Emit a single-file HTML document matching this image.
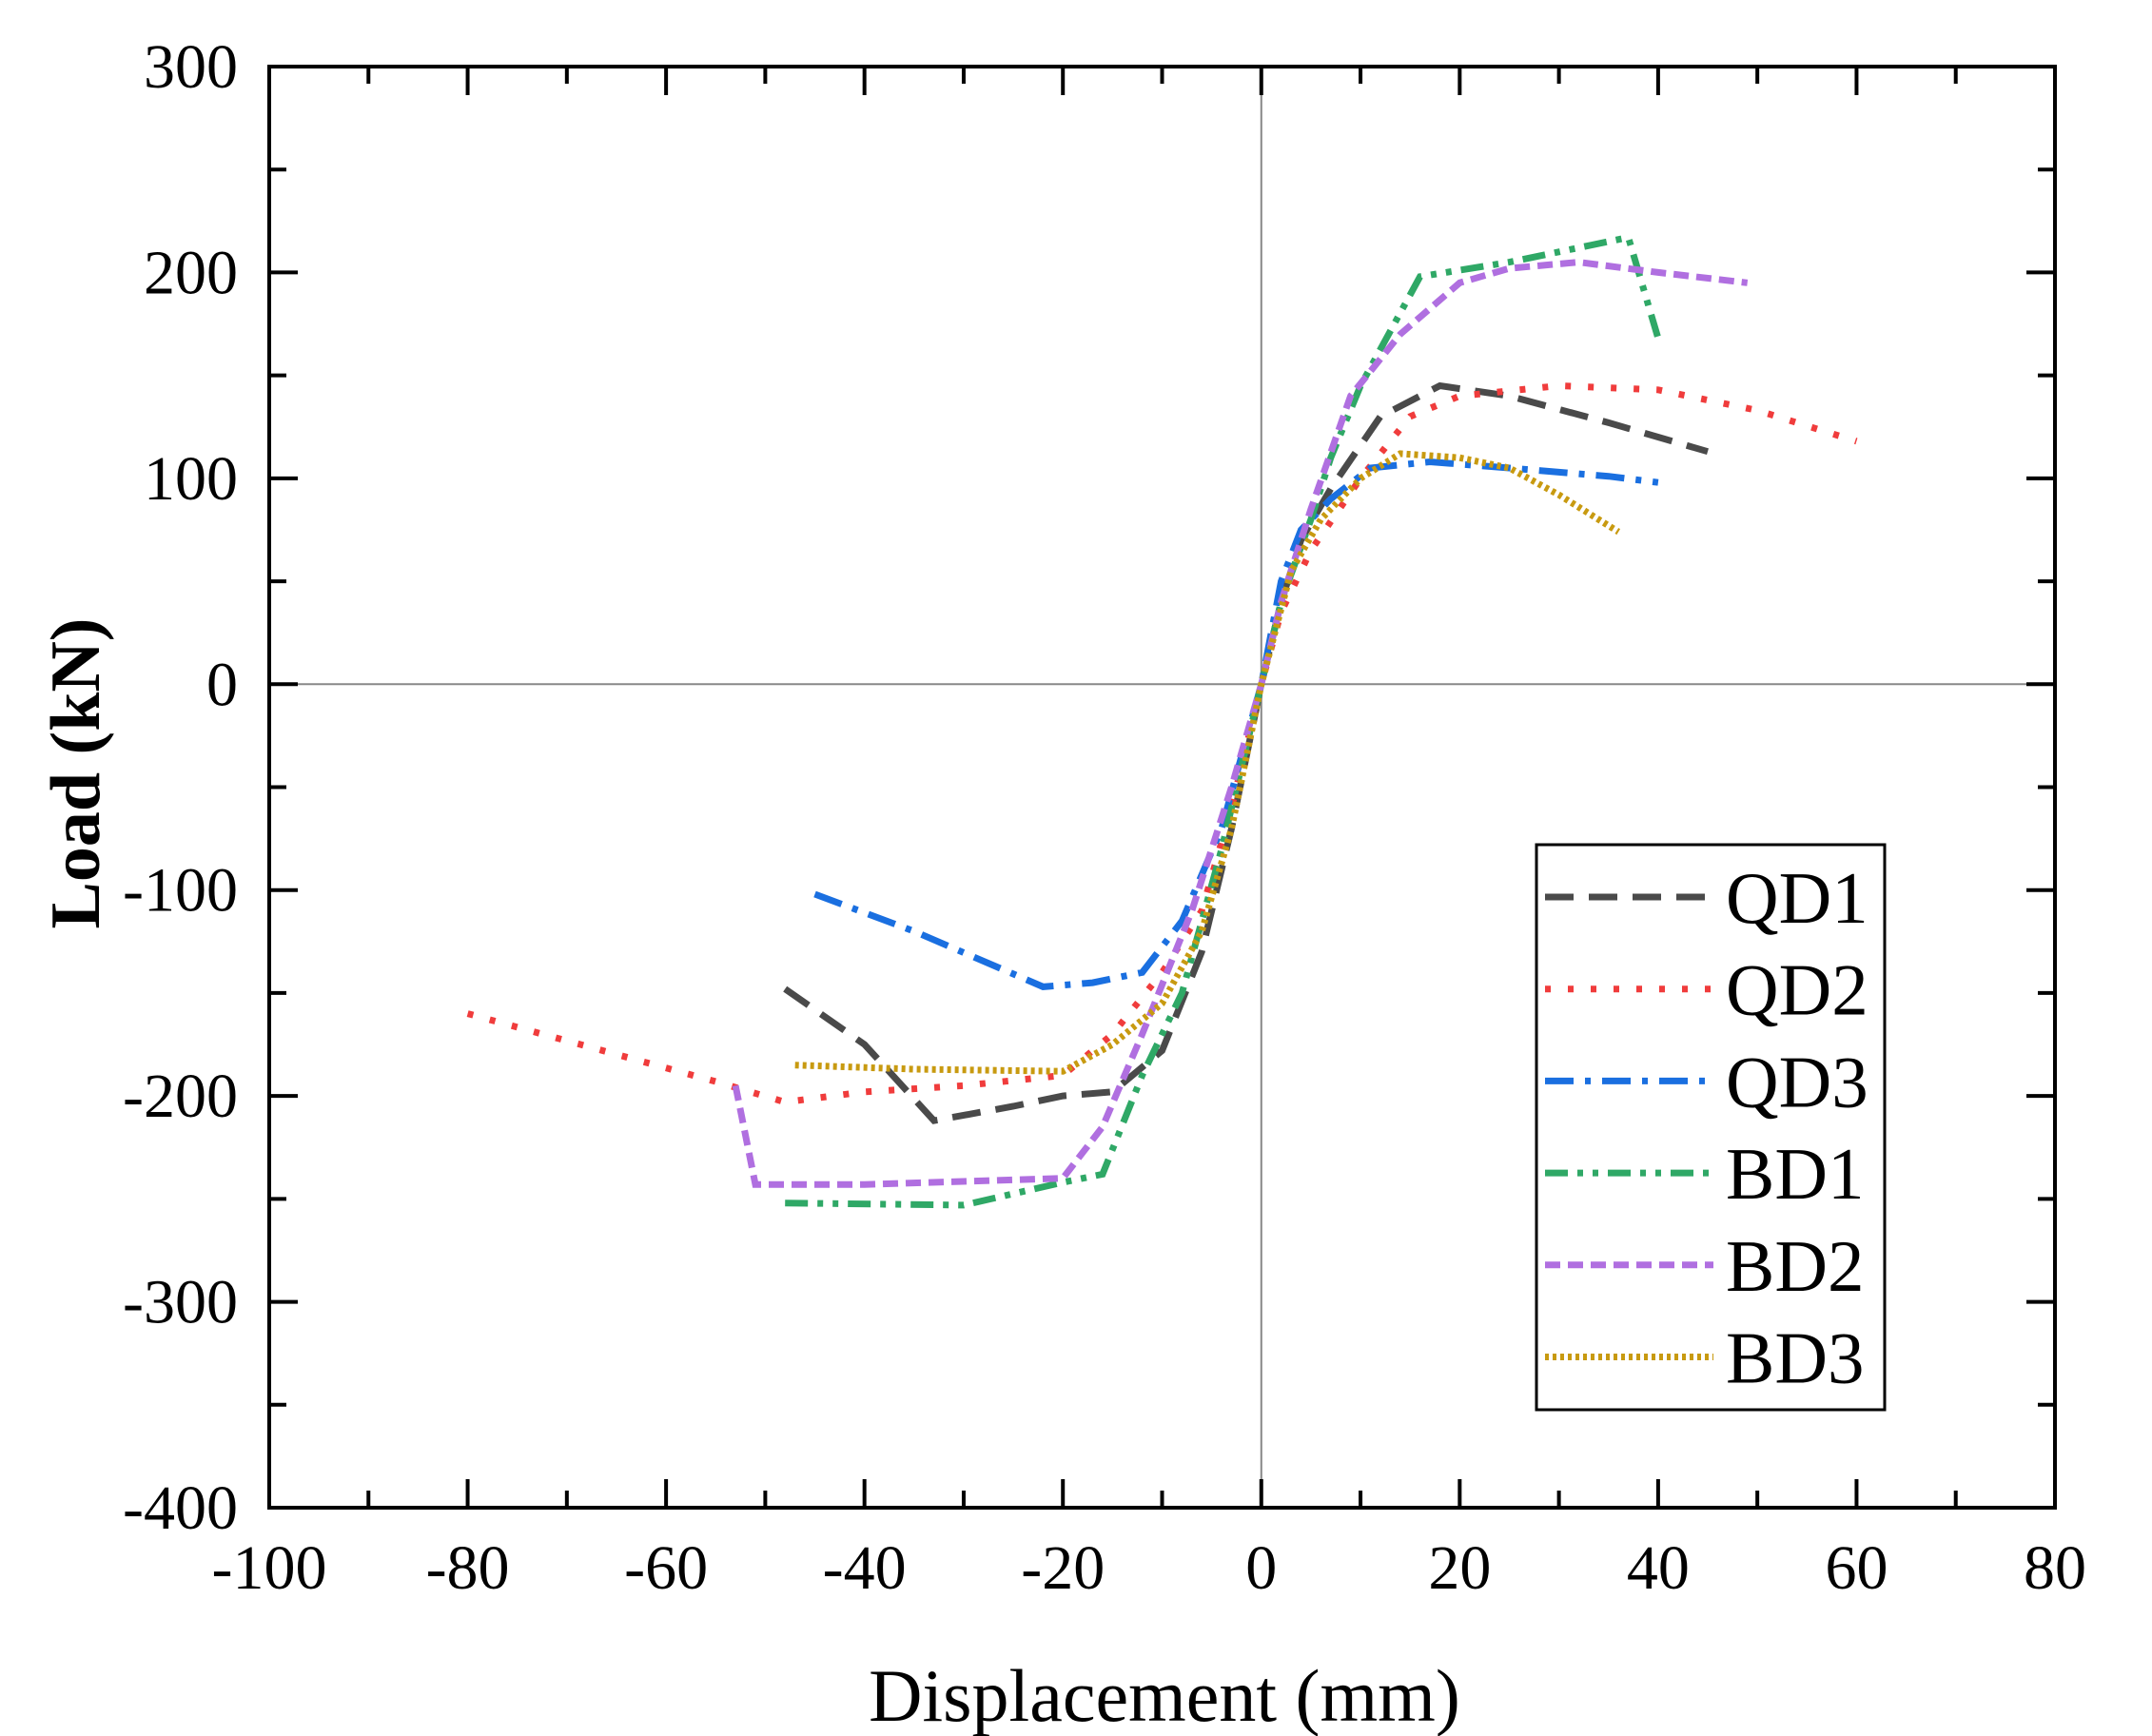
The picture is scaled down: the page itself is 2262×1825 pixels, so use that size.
<!DOCTYPE html>
<html><head><meta charset="utf-8"><style>
html,body{margin:0;padding:0;background:#fff}
svg{display:block}
text{font-family:"Liberation Serif",serif;fill:#000}
</style></head><body>
<svg id="chart" width="2262" height="1825" viewBox="0 0 2262 1825" xmlns="http://www.w3.org/2000/svg">
<g id="zero-lines"></g>
<g id="series"></g>
<g id="axes"></g>
<g id="legend"></g>
<text x="1224" y="1809" font-size="78" text-anchor="middle">Displacement (mm)</text>
<text x="0" y="0" font-size="74" font-weight="bold" text-anchor="middle" transform="translate(104,813) rotate(-90)">Load (kN)</text>
</svg>
<script>
const xTicks=[-100,-80,-60,-40,-20,0,20,40,60,80];
const yTicks=[300,200,100,0,-100,-200,-300,-400];
const seriesNames=["QD1","QD2","QD3","BD1","BD2","BD3"];
const qd1X=[-48,-40,-33,-25,-20,-15,-10,-6,-3,0,2,4,7,12,18,25,35,45];
const qd1Y=[-148,-175,-212,-205,-200,-198,-178,-130,-70,0,40,70,95,130,145,140,127,113];
const qd2X=[-80,-55,-48,-40,-30,-20,-15,-10,-6,-3,0,2,5,10,15,20,30,40,50,60];
const qd2Y=[-160,-193,-203,-198,-195,-190,-170,-140,-110,-60,0,35,65,100,130,140,145,143,133,118];
const qd3X=[-45,-35,-22,-17,-12,-8,-4,0,2,4,7,11,17,25,35,40];
const qd3Y=[-102,-120,-147,-145,-140,-115,-70,0,50,75,90,105,108,105,101,98];
const bd1X=[-48,-30,-20,-16,-12,-8,-4,0,2,5,7,10,16,25,37,40];
const bd1Y=[-252,-253,-242,-238,-190,-150,-80,0,40,80,110,145,198,205,217,168];
const bd2X=[-53,-51,-40,-20,-16,-12,-7,-3,0,2,5,9,14,20,25,32,40,49];
const bd2Y=[-195,-243,-243,-240,-215,-170,-110,-50,0,40,85,140,170,195,202,205,200,195];
const bd3X=[-47,-35,-20,-15,-10,-6,-3,0,3,6,10,14,20,25,30,36];
const bd3Y=[-185,-187,-188,-175,-155,-120,-70,0,55,80,100,112,110,105,92,74];

const NS="http://www.w3.org/2000/svg";
const L=283,R=2160,T=70,B=1585;
const xs=v=>L+(v+100)/180*(R-L);
const ys=v=>T+(300-v)/700*(B-T);
function mk(tag,attrs,parent){const e=document.createElementNS(NS,tag);for(const k in attrs)e.setAttribute(k,attrs[k]);parent.appendChild(e);return e;}

const zl=document.getElementById('zero-lines');
let z1=mk('line',{x1:xs(0),x2:xs(0),y1:T,y2:B,stroke:'#888','stroke-width':2},zl);


let z2=mk('line',{x1:L,x2:R,y1:ys(0),y2:ys(0),stroke:'#888','stroke-width':2},zl);



const styles=[
 {c:'#4a4a4a',d:'30 16',w:7},
 {c:'#f03c3c',d:'6 18',w:7},
 {c:'#1a6fe0',d:'30 12 6 12',w:7},
 {c:'#2fa866',d:'24 10 6 10 6 10',w:7},
 {c:'#b06fe0',d:'16 8',w:7},
 {c:'#c89a10',d:'4 4',w:7}
];
const dataX=[qd1X,qd2X,qd3X,bd1X,bd2X,bd3X];
const dataY=[qd1Y,qd2Y,qd3Y,bd1Y,bd2Y,bd3Y];
const sg=document.getElementById('series');
for(let i=0;i<seriesNames.length;i++){
 const pts=dataX[i].map((x,j)=>xs(x).toFixed(1)+','+ys(dataY[i][j]).toFixed(1)).join(' ');
 const p=mk('polyline',{points:pts,fill:'none',stroke:styles[i].c,'stroke-width':styles[i].w,'stroke-dasharray':styles[i].d},sg);
 
 
}

const ax=document.getElementById('axes');
const frame=mk('rect',{x:L,y:T,width:R-L,height:B-T,fill:'none',stroke:'#000','stroke-width':4},ax);


for(let v=-100;v<=80;v+=10){
 const major=v%20===0,len=major?30:18,x=xs(v);
 const t1=mk('line',{x1:x,x2:x,y1:B,y2:B-len,stroke:'#000','stroke-width':4},ax);
 
 
 const t2=mk('line',{x1:x,x2:x,y1:T,y2:T+len,stroke:'#000','stroke-width':4},ax);
 
 
}
for(let v=-400;v<=300;v+=50){
 const major=v%100===0,len=major?30:18,y=ys(v);
 const t1=mk('line',{x1:L,x2:L+len,y1:y,y2:y,stroke:'#000','stroke-width':4},ax);
 
 
 const t2=mk('line',{x1:R,x2:R-len,y1:y,y2:y,stroke:'#000','stroke-width':4},ax);
 
 
}
xTicks.forEach(v=>{
 const t=mk('text',{x:xs(v),y:1670,'font-size':66,'text-anchor':'middle'},ax);
 t.textContent=v;
 
 
});
yTicks.forEach(v=>{
 const t=mk('text',{x:250,y:ys(v)+22,'font-size':66,'text-anchor':'end'},ax);
 t.textContent=v;
 
 
});

const lg=document.getElementById('legend');
const box=mk('rect',{x:1615,y:888,width:366,height:594,fill:'#fff',stroke:'#000','stroke-width':3},lg);


for(let i=0;i<seriesNames.length;i++){
 const y=943+i*96.7;
 const ln=mk('line',{x1:1624,x2:1801,y1:y,y2:y,stroke:styles[i].c,'stroke-width':styles[i].w,'stroke-dasharray':styles[i].d},lg);
 
 
 const t=mk('text',{x:1814,y:y+27,'font-size':77},lg);
 t.textContent=seriesNames[i];
 
 
}
</script>
</body></html>
